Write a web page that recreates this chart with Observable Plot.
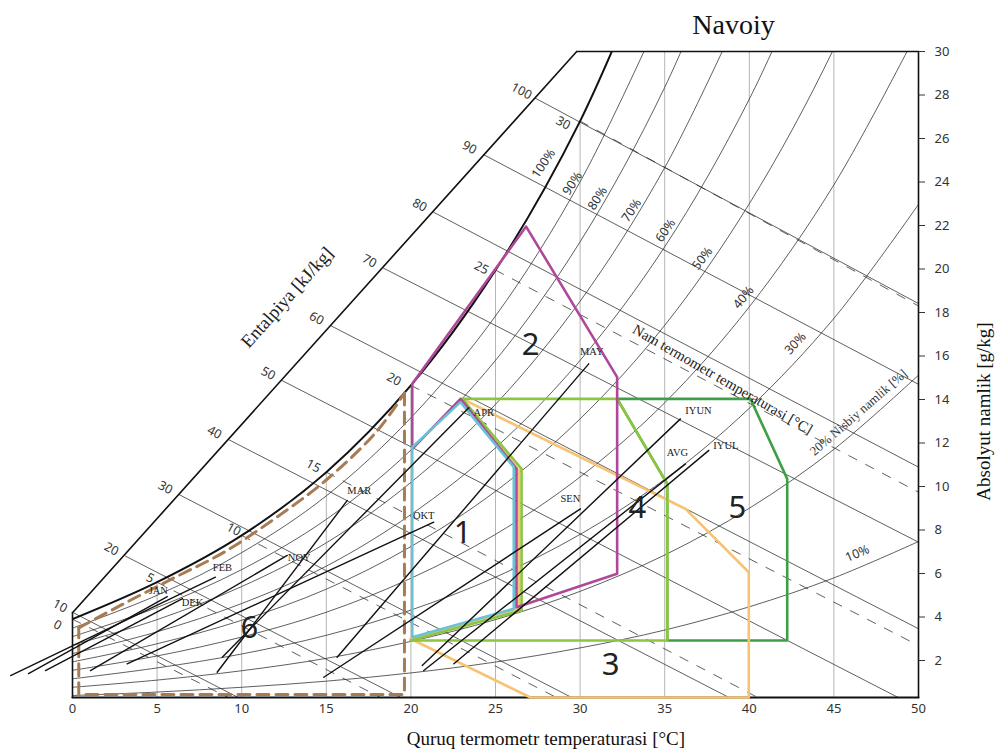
<!DOCTYPE html>
<html><head><meta charset="utf-8">
<script src="https://cdn.jsdelivr.net/npm/d3@7"></script>
<script src="https://cdn.jsdelivr.net/npm/@observablehq/plot@0.6"></script>
<style>body{margin:0;background:#fff}</style>
</head><body><div id="chart"></div>
<script>
// ---------- DATA ----------
const xTicks = [0,5,10,15,20,25,30,35,40,45,50];
const yTicks = [2,4,6,8,10,12,14,16,18,20,22,24,26,28,30];

// relative humidity curves (g/kg) at dry-bulb temperatures
const rhTemps = [0,5,10,15,20,25,30,35,40,45,50];
const rh10 = [0.39,0.55,0.77,1.05,1.43,1.93,2.58,3.40,4.47,5.80,7.47];
const rh20 = [0.77,1.10,1.53,2.10,2.88,3.88,5.18,6.85,9.00,11.71,15.12];
const rh30 = [1.16,1.66,2.30,3.16,4.32,5.83,7.80,10.33,13.60,17.73,22.97];
const rh40 = [1.55,2.21,3.08,4.22,5.78,7.80,10.44,13.85,18.26,23.87,31.02];
const rh50 = [1.94,2.77,3.85,5.28,7.24,9.78,13.11,17.41,23.00,30.14,39.3];
const rh60 = [2.32,3.32,4.62,6.34,8.71,11.78,15.80,21.02,27.81,36.53];
const rh70 = [2.71,3.88,5.40,7.41,10.19,13.78,18.52,24.66,32.70];
const rh80 = [3.10,4.44,6.18,8.49,11.67,15.80,21.25,28.35,37.66];
const rh90 = [3.49,5.00,6.96,9.57,13.16,17.84,24.01,32.08];
const rhSeries = [[10,rh10],[20,rh20],[30,rh30],[40,rh40],[50,rh50],[60,rh60],[70,rh70],[80,rh80],[90,rh90]];

// saturation (100 %) curve
const satT = [0,5,10,15,20,25,30,35];
const satW = [3.9,5.6,7.75,10.66,14.65,19.95,26.8,35.85];

// dry-bulb grid lines
const dryT = [5,10,15,20,25,30,35,40,45];
const dryTopW = [5.6,7.75,10.66,14.65,19.95,26.8,30,30,30];

// enthalpy lines (kJ/kg)
const enthH = [10,20,30,40,50,60,70,80,90,100];
const enthStartT = [0.09,3.13,6.32,9.22,12.39,15.25,18.38,21.34,24.29,27.36];
const enthStartW = [4.18,6.80,9.62,12.16,14.87,17.40,20.04,22.61,25.26,27.85];
const enthEndT = [9.8,19.4,29.5,38.8,48.8,50,50,50,50,50];
const enthEndW = [0.3,0.3,0.3,0.3,0.3,3.46,7.44,10.89,14.7,18.41];
const scaleT = [0,29.8];
const scaleW = [4.2,30];

// wet-bulb lines
const wetT = [0,5,10,15,20,25,30];
const wetStartW = [3.9,5.6,7.75,10.66,14.65,19.95,26.8];
const wetEndT = [9.2,18.2,28.6,40.5,50,50,50];
const wetEndW = [0.3,0.3,0.3,0.3,2.69,9.74,18.3];

// monthly daily ranges
const months = ["JAN","FEB","MAR","APR","MAY","IYUN","IYUL","AVG","SEN","OKT","NOY","DEK"];
const monthTmin = [-2.60,-3.66,8.55,8.85,15.64,20.67,22.54,20.76,14.85,3.23,1.06,-1.60];
const monthWmin = [1.40,1.31,1.46,2.15,2.15,1.77,1.85,1.54,1.23,1.85,1.54,1.54];
const monthTmax = [5.60,8.45,16.24,23.42,30.51,35.93,37.61,36.23,30.02,21.35,12.69,6.50];
const monthWmax = [4.94,5.83,9.36,13.62,15.64,13.11,11.66,11.04,8.97,8.36,6.83,4.85];

// comfort / strategy zones
const zone1 = [[20.08,3.07],[20.08,11.81],[22.93,13.88],[26.08,10.89],[26.08,4.38],[20.08,3.07]];
const zone2 = [[20.08,11.73],[20.08,14.72],[26.81,21.95],[32.19,15.03],[32.19,5.99],[26.24,4.45],[26.24,10.81],[22.93,14.03],[20.08,11.73]];
const zone3 = [[23.03,14.03],[36.23,8.97],[39.97,6.06],[39.97,0.3],[27.07,0.3],[19.98,3.0],[26.38,4.38],[26.38,10.74],[23.03,14.03]];
const zone4 = [[23.03,14.03],[32.19,14.03],[35.15,10.12],[35.15,2.92],[19.98,2.92],[26.54,4.30],[26.54,10.81],[23.03,14.03]];
const zone5 = [[32.19,14.03],[40.07,14.03],[42.24,10.35],[42.24,2.92],[35.15,2.92],[35.15,10.12],[32.19,14.03]];
const zone6Top = [[0.37,3.5],[3,4.6],[6,5.8],[9,7.0],[12,8.55],[15,10.3],[18,12.55],[19.62,14.3]];
const zone6Box = [[19.62,14.3],[19.62,0.44],[0.37,0.44],[0.37,3.5]];
const zoneNames = ["1","2","3","4","5","6"];
const zoneLabelT = [23.05,27.07,31.80,33.39,39.30,10.46];
const zoneLabelW = [7.84,16.48,1.77,9.03,9.03,3.47];

// curve labels
const rhLabels = ["100%","90%","80%","70%","60%","50%","40%","30%","10%"];
const rhLabelT = [27.84,29.55,31.03,33.04,35.05,37.23,39.66,42.73,46.39];
const rhLabelW = [24.85,23.93,23.24,22.69,21.77,20.48,18.69,16.58,6.92];

// ---------- STYLE ----------
const rhLabelRotate = [-56,-57,-57,-56,-55,-52,-50,-47,-23];
const wetLabelDx = [-15,-7,-8,-13,-17,-14,-17];
const wetLabelDy = [6,-4,-6,-6,-6,-2,2];
const monthLabelDx = [-9,7,12,15,3,18,17,-8,-10,-10,12,10];
const monthLabelDy = [-6,-10,-10,5,-12,-8,-5,-11,-10,-7,2,4];
const SANS = "Noto Sans, Open Sans, DejaVu Sans, sans-serif";
const SERIF = "Liberation Serif, DejaVu Serif, serif";

// ---------- BUILD ----------
const rhData = rhSeries.flatMap(([lv, arr]) => arr.map((w, i) => ({lv, T: rhTemps[i], W: w})));
const satData = satT.map((t, i) => ({T: t, W: satW[i]}));
const dryData = dryT.flatMap((t, i) => [{k: i, T: t, W: 0.3}, {k: i, T: t, W: dryTopW[i]}]);
const enthData = enthH.flatMap((h, i) => [{h, T: enthStartT[i], W: enthStartW[i]}, {h, T: enthEndT[i], W: enthEndW[i]}]);
const enthLab = enthH.map((h, i) => ({h: String(h), T: enthStartT[i], W: enthStartW[i]}));
const scaleData = scaleT.map((t, i) => ({T: t, W: scaleW[i]}));
const wetData = wetT.flatMap((t, i) => [{k: t, T: t, W: wetStartW[i]}, {k: t, T: wetEndT[i], W: wetEndW[i]}]);
const monthData = months.flatMap((m, i) => [{m, T: monthTmin[i], W: monthWmin[i]}, {m, T: monthTmax[i], W: monthWmax[i]}]);
const pts = a => a.map(([T, W]) => ({T, W}));
const zoneLab = zoneNames.map((z, i) => ({z, T: zoneLabelT[i], W: zoneLabelW[i]}));
const rhLab = rhLabels.map((s, i) => ({s, T: rhLabelT[i], W: rhLabelW[i], r: rhLabelRotate[i]}));

const wetLabelMarks = wetT.map((t, i) =>
  Plot.text([{s: String(t), T: t, W: wetStartW[i]}], {x: "T", y: "W", text: "s", dx: wetLabelDx[i], dy: wetLabelDy[i], rotate: 28, fontSize: 12.5, fontFamily: SANS, fill: "#333"}));
const monthLabelMarks = months.map((m, i) =>
  Plot.text([{m, T: monthTmax[i], W: monthWmax[i]}], {x: "T", y: "W", text: "m", dx: monthLabelDx[i], dy: monthLabelDy[i], fontSize: 10.5, fontFamily: SERIF, fill: "#222"}));

const ink = "#2a2a2a";
const marks = [
  Plot.line(dryData, {x: "T", y: "W", z: "k", stroke: "#b5b5b5", strokeWidth: 1}),
  Plot.line(rhData, {x: "T", y: "W", z: "lv", curve: "catmull-rom", stroke: ink, strokeWidth: 0.75, clip: true}),
  Plot.line(enthData, {x: "T", y: "W", z: "h", stroke: ink, strokeWidth: 0.75}),
  Plot.line(wetData, {x: "T", y: "W", z: "k", stroke: ink, strokeWidth: 0.75, strokeDasharray: "9,10"}),
  Plot.line(satData, {x: "T", y: "W", curve: "catmull-rom", stroke: "#111", strokeWidth: 2, clip: true}),
  Plot.line(scaleData, {x: "T", y: "W", stroke: "#111", strokeWidth: 1.6}),
  // frame
  Plot.line([{T: 29.8, W: 30}, {T: 50, W: 30}], {x: "T", y: "W", stroke: "#111", strokeWidth: 1.6}),
  Plot.line([{T: 50, W: 30}, {T: 50, W: 0.3}], {x: "T", y: "W", stroke: "#111", strokeWidth: 1.6}),
  Plot.line([{T: 0, W: 0.3}, {T: 50, W: 0.3}], {x: "T", y: "W", stroke: "#111", strokeWidth: 2.2}),
  Plot.line([{T: 0, W: 0.3}, {T: 0, W: 4.2}], {x: "T", y: "W", stroke: "#111", strokeWidth: 1.6}),
  // zones
  Plot.line(pts(zone5), {x: "T", y: "W", stroke: "#3f9f45", strokeWidth: 2.6}),
  Plot.line(pts(zone3), {x: "T", y: "W", stroke: "#f6c372", strokeWidth: 2.6}),
  Plot.line(pts(zone4), {x: "T", y: "W", stroke: "#8cc540", strokeWidth: 2.6}),
  Plot.line(pts(zone2), {x: "T", y: "W", stroke: "#b0489a", strokeWidth: 2.6}),
  Plot.line(pts(zone1), {x: "T", y: "W", stroke: "#68c3d4", strokeWidth: 2.6}),
  Plot.line(pts(zone6Top), {x: "T", y: "W", curve: "catmull-rom", stroke: "#a87c52", strokeWidth: 3, strokeDasharray: "12,7"}),
  Plot.line(pts(zone6Box), {x: "T", y: "W", stroke: "#a87c52", strokeWidth: 3, strokeDasharray: "12,7"}),
  // months
  Plot.line(monthData, {x: "T", y: "W", z: "m", stroke: "#111", strokeWidth: 1.4}),
  ...monthLabelMarks,
  // labels
  Plot.text(enthLab, {x: "T", y: "W", text: "h", dx: -14, dy: -7, rotate: 28, fontSize: 12.5, fontFamily: SANS, fill: "#333"}),
  ...wetLabelMarks,
  Plot.text(rhLab, {x: "T", y: "W", text: "s", rotate: "r", fontSize: 12.5, fontFamily: SANS, fill: "#333"}),
  Plot.text(zoneLab, {x: "T", y: "W", text: "z", fontSize: 31, fontFamily: SANS, fill: "#222"}),
  Plot.text([{s: "20% Nisbiy namlik [%]", T: 46.45, W: 13.4}], {x: "T", y: "W", text: "s", rotate: -41, fontSize: 13, fontFamily: SERIF, fill: "#333"}),
  Plot.text([{s: "Nam termometr temperaturasi [°C]", T: 38.42, W: 14.92}], {x: "T", y: "W", text: "s", rotate: 30, fontSize: 14.6, fontFamily: SERIF, fill: "#222"}),
  Plot.text([{s: "Entalpiya [kJ/kg]", T: 12.68, W: 18.69}], {x: "T", y: "W", text: "s", rotate: -48, fontSize: 18.5, fontFamily: SERIF, fill: "#222"}),
  // axes
  Plot.axisX({ticks: xTicks, tickSize: 0, tickPadding: 6, fontSize: 13, fontFamily: SANS, label: null, tickFormat: d => d}),
  Plot.axisY({anchor: "right", ticks: yTicks, tickSize: 6, tickPadding: 10, fontSize: 13, fontFamily: SANS, label: null, tickFormat: d => d}),
  Plot.text(["Navoiy"], {x: 39.07, frameAnchor: "top", lineAnchor: "middle", dy: -26, fontSize: 28, fontFamily: SERIF, fill: "#111"}),
  Plot.text(["Quruq termometr temperaturasi [°C]"], {x: 27.98, frameAnchor: "bottom", lineAnchor: "middle", dy: 41, fontSize: 19, fontFamily: SERIF, fill: "#111"}),
  Plot.text(["Absolyut namlik [g/kg]"], {frameAnchor: "right", textAnchor: "middle", lineAnchor: "middle", dx: 65, dy: 37, rotate: -90, fontSize: 19, fontFamily: SERIF, fill: "#111"})
];

const chart = Plot.plot({
  width: 995, height: 753,
  marginLeft: 72, marginRight: 77, marginTop: 51, marginBottom: 56,
  x: {domain: [0, 50]},
  y: {domain: [0.3, 30]},
  style: {background: "white", color: "#333"},
  marks
});
document.getElementById("chart").appendChild(chart);
</script></body></html>
